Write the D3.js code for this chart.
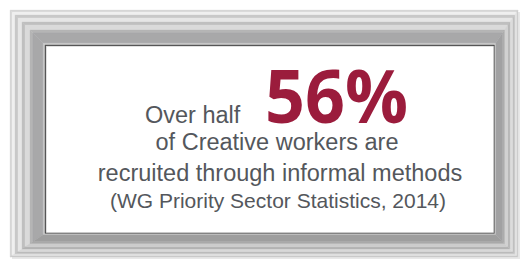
<!DOCTYPE html>
<html>
<head>
<meta charset="utf-8">
<script src="https://cdn.jsdelivr.net/npm/d3@7"></script>
<style>
  body { margin: 0; background: #fff; }
  svg { display: block; }
</style>
</head>
<body>
<div id="container"></div>
<script>
/* CONSTANTS AND GLOBALS */
const width = 525;
const height = 266;

// text content
const introText = "Over half";
const statValue = "56%";
const bodyLines = ["of Creative workers are", "recruited through informal methods"];
const sourceLine = "(WG Priority Sector Statistics, 2014)";

// frame: outer box and inner opening
const outer = { x0: 10, y0: 10, x1: 518, y1: 257 };
const inner = { x0: 47, y0: 47, x1: 493, y1: 232 };

// frame moulding stripes, outer (0) to inner (1)
const stripeStops = [0, 2, 5, 8, 12, 15, 20, 23, 33, 35, 36, 37].map(d => d / 37);
const stripeColors = ["#d6d6d6", "#efefef", "#c8c8c8", "#e6e6e6", "#bfbfbf", "#dadada",
  "#b5b5b5", "#a8a8a9", "#c6c6c6", "#3f3f3f", "#e0e0e0"];

const svg = d3.select("#container")
  .append("svg")
  .attr("width", width)
  .attr("height", height);

// soft shadow behind the frame
svg.append("rect")
  .attr("x", outer.x0 + 2).attr("y", outer.y0 + 2)
  .attr("width", outer.x1 - outer.x0).attr("height", outer.y1 - outer.y0)
  .attr("fill", "#e8e8e8");

// interpolate per side between outer and inner edges
const sx0 = d3.scaleLinear().domain([0, 1]).range([outer.x0, inner.x0]);
const sy0 = d3.scaleLinear().domain([0, 1]).range([outer.y0, inner.y0]);
const sx1 = d3.scaleLinear().domain([0, 1]).range([outer.x1, inner.x1]);
const sy1 = d3.scaleLinear().domain([0, 1]).range([outer.y1, inner.y1]);

const stripes = stripeColors.map((c, i) => ({ a: stripeStops[i], b: stripeStops[i + 1], color: c }));

function sidePoly(s, side) {
  const a = s.a, b = s.b;
  if (side === "top") return [[sx0(a), sy0(a)], [sx1(a), sy0(a)], [sx1(b), sy0(b)], [sx0(b), sy0(b)]];
  if (side === "bottom") return [[sx0(a), sy1(a)], [sx1(a), sy1(a)], [sx1(b), sy1(b)], [sx0(b), sy1(b)]];
  if (side === "left") return [[sx0(a), sy0(a)], [sx0(b), sy0(b)], [sx0(b), sy1(b)], [sx0(a), sy1(a)]];
  return [[sx1(a), sy0(a)], [sx1(b), sy0(b)], [sx1(b), sy1(b)], [sx1(a), sy1(a)]];
}

const sides = ["top", "left", "bottom", "right"];
const shade = { top: 0, left: 0, bottom: 0.18, right: 0.12 };

sides.forEach(side => {
  svg.append("g")
    .selectAll("path")
    .data(stripes)
    .join("path")
    .attr("d", d => "M" + sidePoly(d, side).join("L") + "Z")
    .attr("fill", d => d3.color(d.color).darker(shade[side]))
    .attr("stroke", d => d3.color(d.color).darker(shade[side]))
    .attr("stroke-width", 0.3);
});

// white panel
svg.append("rect")
  .attr("x", inner.x0).attr("y", inner.y0)
  .attr("width", inner.x1 - inner.x0).attr("height", inner.y1 - inner.y0)
  .attr("fill", "#fff");

/* TEXT */
const textColor = "#54575c";
const font = "'Liberation Sans', Arial, sans-serif";

svg.append("text")
  .attr("x", 145).attr("y", 123)
  .attr("font-family", font).attr("font-size", 23.5)
  .attr("fill", textColor)
  .text(introText);

svg.append("text")
  .attr("x", 265).attr("y", 123)
  .attr("font-family", "'Open Sans', sans-serif").attr("font-size", 74).attr("font-weight", "bold")
  .attr("fill", "#9b1c3c")
  .attr("textLength", 143).attr("lengthAdjust", "spacingAndGlyphs")
  .text(statValue);

const lineY = d3.scalePoint().domain(bodyLines).range([150, 181]);

svg.append("g")
  .selectAll("text")
  .data(bodyLines)
  .join("text")
  .attr("x", (d, i) => i === 0 ? 277 : 280)
  .attr("y", d => lineY(d))
  .attr("text-anchor", "middle")
  .attr("font-family", font).attr("font-size", 23.5)
  .attr("fill", textColor)
  .text(d => d);

svg.append("text")
  .attr("x", 278).attr("y", 208)
  .attr("text-anchor", "middle")
  .attr("font-family", font).attr("font-size", 21)
  .attr("fill", textColor)
  .text(sourceLine);
</script>
</body>
</html>
